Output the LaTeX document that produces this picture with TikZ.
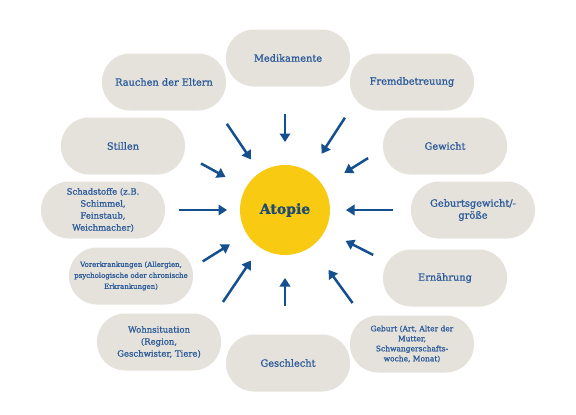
\documentclass[tikz,border=0pt]{standalone}
\usepackage{fontspec}
\setmainfont{DejaVu Serif}[FakeBold=1.2]
\usetikzlibrary{arrows.meta}

\definecolor{pillgray}{HTML}{E5E2DB}
\definecolor{textblue}{HTML}{2D5C9B}
\definecolor{arrowblue}{HTML}{14508F}
\definecolor{sunyellow}{HTML}{F9CA12}
\definecolor{darkblue}{HTML}{1E4B72}

\tikzset{
  pill/.style={fill=pillgray, rounded corners=28pt, minimum width=124pt,
    minimum height=57pt, text=textblue, align=center, inner sep=2pt,
    font=\fontsize{9.8}{12}\selectfont},
  pillsmall/.style={pill, font=\fontsize{8.5}{12}\selectfont},
  pilltiny/.style={pill, font=\fontsize{7}{11}\selectfont},
  sun/.style={circle, fill=sunyellow, minimum size=90pt, text=darkblue,
    font=\fontsize{14}{16}\selectfont\bfseries},
  arr/.style={draw=arrowblue, line width=2.5pt,
    -{Triangle[length=8.5pt,width=10.5pt]}}
}

\begin{document}
\begin{tikzpicture}[x=1pt,y=-1pt]
  \useasboundingbox[fill=white] (0,0) rectangle (576,415);

  % Mitte
  \node[sun] (atopie) at (285,210) {Atopie};

  % Einflussfaktoren
  \node[pill] (med) at (288,58) {Medikamente};
  \node[pill] (rauchen) at (164,82) {Rauchen der Eltern};
  \node[pill] (fremd) at (412,82) {Fremdbetreuung};
  \node[pill] (stillen) at (123,146) {Stillen};
  \node[pill] (gewicht) at (445,146) {Gewicht};
  \node[pillsmall] (schad) at (103,210) {Schadstoffe (z.B.\\Schimmel,\\Feinstaub,\\Weichmacher)};
  \node[pill] (gebgew) at (473,210) {Geburtsgewicht/-\\größe};
  \node[pilltiny] (vorerk) at (131,276) {Vorerkrankungen (Allergien,\\psychologische oder chronische\\Erkrankungen)};
  \node[pill] (ernaehr) at (445,278) {Ernährung};
  \node[pillsmall] (wohn) at (159,342) {Wohnsituation\\(Region,\\Geschwister, Tiere)};
  \node[pill] (geschl) at (288,363) {Geschlecht};
  \node[pilltiny, font=\fontsize{7.5}{10}\selectfont] (geburt) at (412,344) {Geburt (Art, Alter der\\Mutter,\\Schwangerschafts-\\woche, Monat)};

  % Pfeile zur Mitte
  \foreach \a/\rs/\re [count=\i] in {0/108/61, -32/98/70, -57/110/67, -90/96/68,
      -124/104/61, -151/96/68, 180/106/58, 148/97/65, 124/111/61, 90/96/68,
      54/115/74, 27/99/68} {
    \path (atopie.center) ++(\a:\rs) coordinate (s\i);
    \path (atopie.center) ++(\a:\re) coordinate (t\i);
    \draw[arr] (s\i) -- (t\i);
  }
\end{tikzpicture}
\end{document}
